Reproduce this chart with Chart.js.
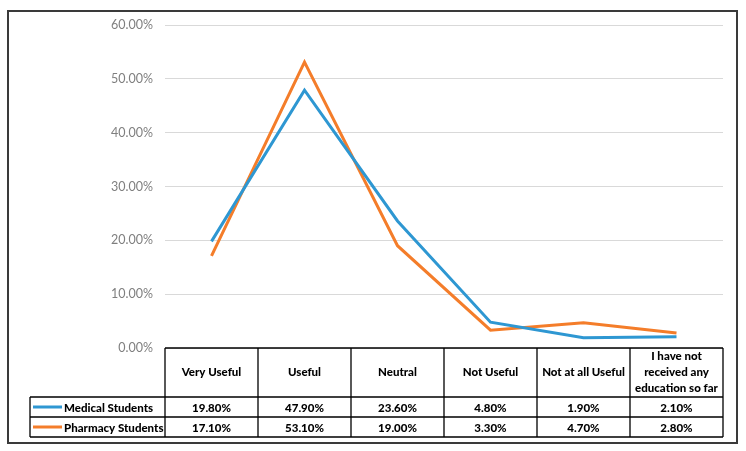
<!DOCTYPE html>
<html>
<head>
<meta charset="utf-8">
<script src="https://cdn.jsdelivr.net/npm/chart.js"></script>
<style>
    html, body { margin: 0; padding: 0; background: #fff; }
    #wrap { width: 746px; height: 451px; position: relative; }
</style>
</head>
<body>
<div id="wrap"><canvas id="chart" width="746" height="451"></canvas></div>
<script>
// categories (multi-line labels used in the data table)
const categories = [
    ['Very Useful'],
    ['Useful'],
    ['Neutral'],
    ['Not Useful'],
    ['Not at all Useful'],
    ['I have not', 'received any', 'education so far']
];
const seriesNames = ['Medical Students', 'Pharmacy Students'];
const medicalValues = [19.8, 47.9, 23.6, 4.8, 1.9, 2.1];
const pharmacyValues = [17.1, 53.1, 19.0, 3.3, 4.7, 2.8];
const seriesColors = ['#2E97D2', '#F47D2A'];
const yTicks = [0, 10, 20, 30, 40, 50, 60];

const FONT = 'Lato, "Open Sans", sans-serif';

// data table drawn under the plot, columns taken from the x scale
const dataTable = {
    id: 'dataTable',
    afterDraw(chart) {
        const ctx = chart.ctx;
        const x = chart.scales.x;
        const area = chart.chartArea;
        const step = (area.right - area.left) / categories.length;
        const top = area.bottom;
        const headBottom = top + 49;
        const rowH = 20;
        const legendLeft = 30;
        const allValues = [medicalValues, pharmacyValues];

        ctx.save();
        // outer frame
        ctx.strokeStyle = '#3a3a3a';
        ctx.lineWidth = 2;
        ctx.strokeRect(8, 11, 729, 432);

        ctx.strokeStyle = '#000';
        ctx.lineWidth = 1.3;
        ctx.beginPath();
        // top border of table (replaces the 0% line)
        ctx.moveTo(area.left, top);
        ctx.lineTo(area.right, top);
        // row lines
        for (let r = 0; r <= 2; r++) {
            const yy = headBottom + r * rowH;
            ctx.moveTo(legendLeft, yy);
            ctx.lineTo(area.right, yy);
        }
        // vertical lines
        for (let i = 0; i <= categories.length; i++) {
            const xx = area.left + i * step;
            ctx.moveTo(xx, top);
            ctx.lineTo(xx, headBottom + 2 * rowH);
        }
        ctx.moveTo(legendLeft, headBottom);
        ctx.lineTo(legendLeft, headBottom + 2 * rowH);
        ctx.stroke();

        ctx.fillStyle = '#000';
        ctx.font = '900 11.5px ' + FONT;
        ctx.textAlign = 'center';
        ctx.textBaseline = 'middle';
        categories.forEach((lines, i) => {
            const cx = x.getPixelForValue(i);
            const lh = 16;
            const cy = (top + headBottom) / 2 - (lines.length - 1) * lh / 2;
            lines.forEach((t, k) => ctx.fillText(t, cx, cy + k * lh));
            allValues.forEach((vals, s) => {
                ctx.fillText(vals[i].toFixed(2) + '%', cx, headBottom + s * rowH + rowH / 2 + 1);
            });
        });

        // legend keys + series names
        ctx.textAlign = 'left';
        seriesNames.forEach((name, s) => {
            const cy = headBottom + s * rowH + rowH / 2;
            ctx.strokeStyle = seriesColors[s];
            ctx.lineWidth = 3;
            ctx.beginPath();
            ctx.moveTo(33, cy);
            ctx.lineTo(62, cy);
            ctx.stroke();
            ctx.fillText(name, 64, cy + 1);
        });
        ctx.restore();
    }
};

new Chart(document.getElementById('chart'), {
    type: 'line',
    data: {
        labels: categories.map(c => c.join(' ')),
        datasets: [
            {
                label: seriesNames[0],
                data: medicalValues,
                borderColor: seriesColors[0],
                backgroundColor: seriesColors[0],
                borderWidth: 3,
                pointRadius: 0,
                tension: 0
            },
            {
                label: seriesNames[1],
                data: pharmacyValues,
                borderColor: seriesColors[1],
                backgroundColor: seriesColors[1],
                borderWidth: 3,
                pointRadius: 0,
                tension: 0
            }
        ]
    },
    options: {
        responsive: false,
        animation: false,
        layout: { padding: { left: 0, top: 25, right: 23, bottom: 103 } },
        plugins: {
            legend: { display: false },
            tooltip: { enabled: false }
        },
        scales: {
            x: {
                display: false,
                offset: true
            },
            y: {
                min: 0,
                max: 60,
                afterFit: (scale) => { scale.width = 165; },
                afterBuildTicks: (scale) => { scale.ticks = yTicks.map(v => ({ value: v })); },
                border: { display: false },
                grid: { color: '#D9D9D9', lineWidth: 1, drawTicks: false },
                ticks: {
                    padding: 12,
                    color: '#7F7F7F',
                    font: { family: FONT, size: 12.5 },
                    callback: (v) => v.toFixed(2) + '%'
                }
            }
        }
    },
    plugins: [dataTable]
});
</script>
</body>
</html>
